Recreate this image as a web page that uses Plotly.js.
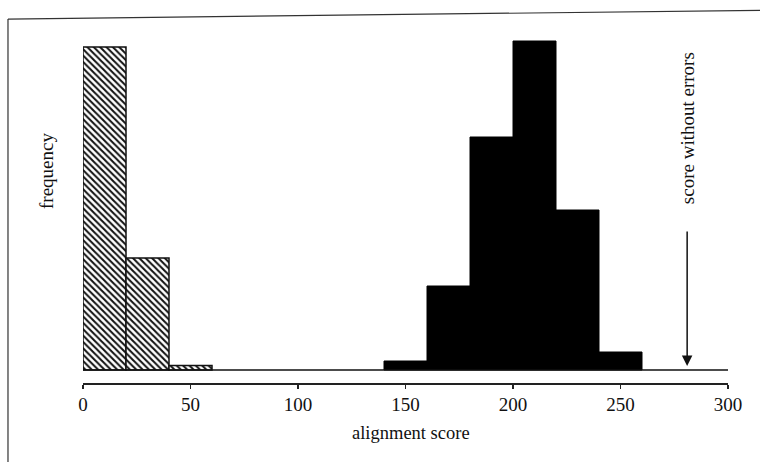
<!DOCTYPE html>
<html>
<head>
<meta charset="utf-8">
<script src="https://cdn.plot.ly/plotly-3.0.1.min.js"></script>
<style>html,body{margin:0;padding:0;background:#fff;}#chart{width:760px;height:462px;}</style>
</head>
<body>
<div id="chart"></div>
<script>
// Data (frequency in arbitrary units)
var randomBins = [10, 30, 50];          // bin centres, random alignments (hatched)
var randomFreq = [323, 112, 4.5];
var realBins = [150, 170, 190, 210, 230, 250];  // bin centres, true alignments (black)
var realFreq = [9, 84, 233, 329, 160, 18];
var xTicks = [0, 50, 100, 150, 200, 250, 300];
var errorFreeScore = 281;

var font = "'Liberation Serif', 'Times New Roman', serif";

var traces = [
  {
    type: 'bar', x: randomBins, y: randomFreq, width: 20,
    marker: {
      color: '#fff',
      line: {color: '#111', width: 1.5},
      pattern: {shape: '\\', size: 4.5, solidity: 0.45, fgcolor: '#111', bgcolor: '#fff', fillmode: 'replace'}
    },
    hoverinfo: 'skip'
  },
  {
    type: 'bar', x: realBins, y: realFreq, width: 20,
    marker: {color: '#000', line: {color: '#000', width: 1}},
    hoverinfo: 'skip'
  }
];

var layout = {
  width: 760, height: 462,
  margin: {l: 83, r: 32, t: 30, b: 79},
  paper_bgcolor: '#fff', plot_bgcolor: '#fff',
  showlegend: false,
  barmode: 'overlay',
  font: {family: font, color: '#111', size: 18},
  xaxis: {
    range: [0, 300], tickvals: xTicks, ticktext: xTicks.map(String),
    showgrid: false, zeroline: false, showline: true, linecolor: '#222', linewidth: 1.5,
    ticks: 'outside', ticklen: 4, tickwidth: 1.2, tickcolor: '#222',
    tickfont: {family: font, size: 19, color: '#111'}
  },
  yaxis: {
    range: [-13, 340], showgrid: false, zeroline: false, showline: false,
    showticklabels: false, ticks: ''
  },
  shapes: [
    {type: 'line', xref: 'x', yref: 'y', x0: 0, x1: 300, y0: 0, y1: 0, line: {color: '#111', width: 1.5}},
    {type: 'line', xref: 'paper', yref: 'paper', x0: -0.1163, x1: 1.06, y0: 1.031, y1: 1.056, line: {color: '#333', width: 1.2}},
    {type: 'line', xref: 'paper', yref: 'paper', x0: -0.1163, x1: -0.1163, y0: 1.031, y1: -0.3, line: {color: '#333', width: 1.2}}
  ],
  annotations: [
    {x: errorFreeScore, y: 4, xref: 'x', yref: 'y', ax: 0, ay: -136, axref: 'pixel', ayref: 'pixel',
     showarrow: true, arrowhead: 2, arrowsize: 1.4, arrowwidth: 1.5, arrowcolor: '#111', text: ''},
    {x: errorFreeScore, y: 242, xref: 'x', yref: 'y', showarrow: false, textangle: -90,
     xanchor: 'center', yanchor: 'middle',
     text: 'score without errors', font: {family: font, size: 19, color: '#111'}},
    {x: 0.5085, y: -0.1416, xref: 'paper', yref: 'paper', showarrow: false,
     xanchor: 'center', yanchor: 'middle',
     text: 'alignment score', font: {family: font, size: 18.5, color: '#111'}},
    {x: -0.0558, y: 0.6006, xref: 'paper', yref: 'paper', showarrow: false, textangle: -90,
     xanchor: 'center', yanchor: 'middle',
     text: 'frequency', font: {family: font, size: 19, color: '#111'}}
  ]
};

Plotly.newPlot('chart', traces, layout, {staticPlot: true, displayModeBar: false});
</script>
</body>
</html>
